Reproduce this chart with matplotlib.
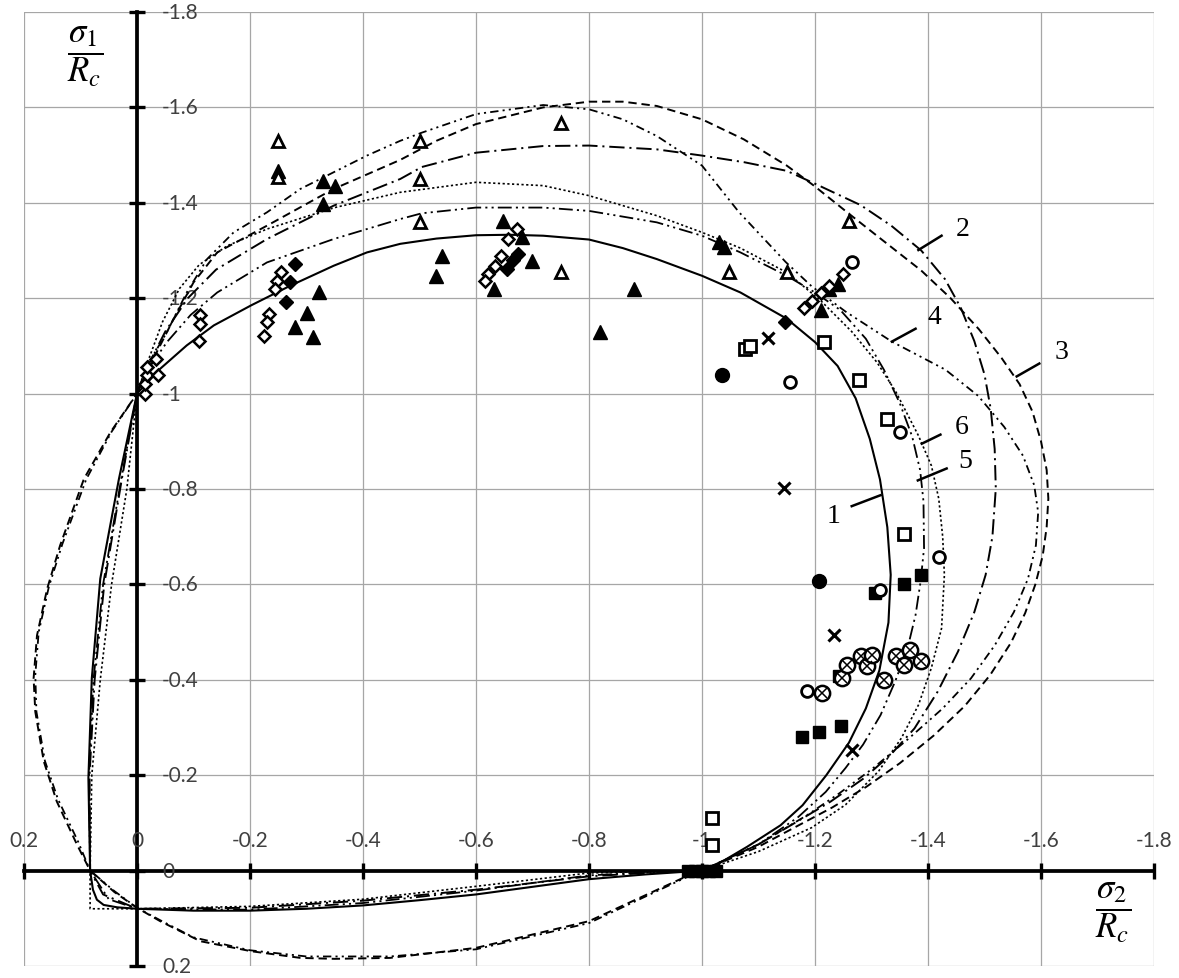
import numpy as np
import matplotlib.pyplot as plt

plt.rcParams['lines.scale_dashes'] = False
plt.rcParams['mathtext.fontset'] = 'stix'

# tick values / labels (Excel style)
tick_vals = [0.2, 0.0, -0.2, -0.4, -0.6, -0.8, -1.0, -1.2, -1.4, -1.6, -1.8]
tick_text = ['0.2', '0', '-0.2', '-0.4', '-0.6', '-0.8', '-1', '-1.2', '-1.4', '-1.6', '-1.8']

# limit curves (sigma2/Rc, sigma1/Rc)
curve1 = [(0, -1.0), (-0.041, -1.052), (-0.088, -1.101), (-0.136, -1.143), (-0.202, -1.185),
          (-0.271, -1.226), (-0.348, -1.268), (-0.407, -1.296), (-0.466, -1.314), (-0.53, -1.325),
          (-0.6, -1.332), (-0.66, -1.333), (-0.719, -1.331), (-0.8, -1.323), (-0.86, -1.305),
          (-0.92, -1.282), (-1.0, -1.247), (-1.068, -1.212), (-1.15, -1.157), (-1.2, -1.108),
          (-1.24, -1.058), (-1.272, -0.99), (-1.297, -0.905), (-1.315, -0.82), (-1.328, -0.72),
          (-1.334, -0.62), (-1.33, -0.52), (-1.314, -0.42), (-1.29, -0.34), (-1.26, -0.268),
          (-1.22, -0.2), (-1.178, -0.137), (-1.139, -0.095), (-1.08, -0.05), (-1.03, -0.015),
          (-1.0, 0.0), (-0.9, 0.008), (-0.8, 0.018), (-0.7, 0.034), (-0.6, 0.05), (-0.5, 0.062),
          (-0.4, 0.073), (-0.3, 0.08), (-0.2, 0.084), (-0.1, 0.084), (0.0, 0.08), (0.035, 0.077),
          (0.059, 0.072), (0.071, 0.061), (0.078, 0.04), (0.083, 0.0), (0.086, -0.194),
          (0.08, -0.403), (0.065, -0.612), (0.032, -0.821), (0.0, -1.0)]

curve2 = [(0, -1.0), (-0.02, -1.06), (-0.05, -1.13), (-0.09, -1.2), (-0.14, -1.26), (-0.23, -1.324),
          (-0.348, -1.394), (-0.466, -1.45), (-0.504, -1.475), (-0.6, -1.505), (-0.719, -1.519),
          (-0.8, -1.52), (-0.92, -1.512), (-1.0, -1.499), (-1.075, -1.485), (-1.15, -1.467),
          (-1.2, -1.44), (-1.281, -1.395), (-1.335, -1.352), (-1.388, -1.3), (-1.43, -1.24),
          (-1.458, -1.18), (-1.482, -1.11), (-1.5, -1.04), (-1.511, -0.968), (-1.518, -0.884),
          (-1.52, -0.801), (-1.514, -0.7), (-1.502, -0.62), (-1.482, -0.542), (-1.453, -0.459),
          (-1.417, -0.375), (-1.376, -0.298), (-1.334, -0.243), (-1.287, -0.194), (-1.228, -0.145),
          (-1.19, -0.118), (-1.1, -0.055), (-1.0, 0.0), (-0.9, 0.005), (-0.8, 0.012), (-0.6, 0.04),
          (-0.4, 0.063), (-0.2, 0.078), (0.0, 0.08), (0.06, 0.05), (0.083, 0.0), (0.084, -0.2),
          (0.075, -0.4), (0.058, -0.6), (0.027, -0.82), (0.0, -1.0)]

curve3 = [(0, -1.0), (-0.029, -1.073), (-0.065, -1.157), (-0.1, -1.233), (-0.142, -1.296),
          (-0.23, -1.352), (-0.348, -1.429), (-0.466, -1.49), (-0.53, -1.53), (-0.6, -1.565),
          (-0.719, -1.6), (-0.8, -1.612), (-0.86, -1.612), (-0.92, -1.603), (-1.0, -1.575),
          (-1.074, -1.533), (-1.15, -1.478), (-1.198, -1.436), (-1.257, -1.38), (-1.317, -1.324),
          (-1.388, -1.258), (-1.44, -1.2), (-1.49, -1.135), (-1.53, -1.075), (-1.562, -1.02),
          (-1.585, -0.962), (-1.6, -0.9), (-1.61, -0.84), (-1.613, -0.78), (-1.61, -0.72),
          (-1.603, -0.66), (-1.59, -0.6), (-1.572, -0.54), (-1.547, -0.478), (-1.51, -0.41),
          (-1.465, -0.345), (-1.41, -0.283), (-1.35, -0.225), (-1.29, -0.175), (-1.23, -0.132),
          (-1.16, -0.088), (-1.1, -0.05), (-1.0, 0.0), (-0.967, 0.015), (-0.8, 0.106),
          (-0.6, 0.162), (-0.448, 0.183), (-0.35, 0.185), (-0.289, 0.183), (-0.202, 0.169),
          (-0.112, 0.148), (-0.041, 0.106), (0.0, 0.078), (0.04, 0.045), (0.083, 0.0),
          (0.106, -0.054), (0.142, -0.145), (0.165, -0.229), (0.18, -0.333), (0.183, -0.403),
          (0.177, -0.493), (0.159, -0.591), (0.136, -0.682), (0.094, -0.821), (0.047, -0.919),
          (0.0, -1.0)]

curve4 = [(0, -1.0), (-0.018, -1.059), (-0.053, -1.129), (-0.088, -1.212), (-0.124, -1.282),
          (-0.171, -1.338), (-0.23, -1.38), (-0.289, -1.429), (-0.348, -1.464), (-0.407, -1.499),
          (-0.466, -1.53), (-0.504, -1.547), (-0.6, -1.586), (-0.719, -1.605), (-0.8, -1.596),
          (-0.86, -1.575), (-0.92, -1.54), (-1.0, -1.478), (-1.065, -1.381), (-1.148, -1.276),
          (-1.194, -1.225), (-1.254, -1.172), (-1.336, -1.109), (-1.431, -1.05), (-1.489, -0.995),
          (-1.535, -0.93), (-1.568, -0.87), (-1.588, -0.808), (-1.595, -0.751), (-1.591, -0.682),
          (-1.577, -0.612), (-1.552, -0.542), (-1.518, -0.472), (-1.476, -0.403), (-1.426, -0.34),
          (-1.366, -0.277), (-1.302, -0.214), (-1.243, -0.162), (-1.187, -0.117), (-1.1, -0.055),
          (-1.0, 0.0), (-0.967, 0.017), (-0.8, 0.11), (-0.6, 0.165), (-0.448, 0.18), (-0.3, 0.18),
          (-0.2, 0.167), (-0.1, 0.14), (-0.041, 0.104), (0.0, 0.078), (0.04, 0.043), (0.083, 0.0),
          (0.104, -0.06), (0.14, -0.15), (0.163, -0.23), (0.178, -0.333), (0.18, -0.41),
          (0.174, -0.5), (0.156, -0.595), (0.132, -0.685), (0.09, -0.82), (0.045, -0.92), (0.0, -1.0)]

curve5 = [(0, -1.0), (-0.012, -1.038), (-0.053, -1.108), (-0.095, -1.165), (-0.142, -1.212),
          (-0.23, -1.275), (-0.348, -1.324), (-0.466, -1.366), (-0.504, -1.378), (-0.6, -1.39),
          (-0.719, -1.39), (-0.8, -1.383), (-0.92, -1.359), (-1.0, -1.331), (-1.068, -1.296),
          (-1.15, -1.247), (-1.2, -1.212), (-1.245, -1.175), (-1.29, -1.115), (-1.322, -1.05),
          (-1.35, -0.98), (-1.372, -0.91), (-1.386, -0.84), (-1.392, -0.774), (-1.393, -0.676),
          (-1.387, -0.607), (-1.378, -0.536), (-1.364, -0.467), (-1.342, -0.397), (-1.316, -0.326),
          (-1.285, -0.264), (-1.254, -0.215), (-1.219, -0.165), (-1.17, -0.112), (-1.1, -0.055),
          (-1.0, 0.0), (-0.9, 0.004), (-0.8, 0.01), (-0.6, 0.042), (-0.4, 0.068), (-0.2, 0.082),
          (0.0, 0.08), (0.05, 0.06), (0.083, 0.0), (0.085, -0.2), (0.077, -0.4), (0.06, -0.6),
          (0.028, -0.82), (0.0, -1.0)]

curve6 = [(0, -1.0), (-0.02, -1.07), (-0.045, -1.15), (-0.075, -1.22), (-0.11, -1.27), (-0.16, -1.31),
          (-0.23, -1.345), (-0.35, -1.39), (-0.466, -1.422), (-0.6, -1.443), (-0.719, -1.436),
          (-0.8, -1.415), (-0.92, -1.373), (-1.0, -1.338), (-1.068, -1.305), (-1.15, -1.254),
          (-1.21, -1.195), (-1.265, -1.13), (-1.31, -1.065), (-1.343, -1.004), (-1.383, -0.912),
          (-1.406, -0.849), (-1.419, -0.78), (-1.426, -0.7), (-1.429, -0.62), (-1.424, -0.508),
          (-1.406, -0.425), (-1.383, -0.347), (-1.353, -0.278), (-1.313, -0.209), (-1.254, -0.138),
          (-1.194, -0.09), (-1.1, -0.04), (-1.0, 0.0), (-0.9, 0.002), (-0.8, 0.005), (-0.6, 0.033),
          (-0.4, 0.06), (-0.2, 0.075), (0.0, 0.08), (0.083, 0.08), (0.083, 0.0), (0.08, -0.2),
          (0.065, -0.4), (0.045, -0.6), (0.018, -0.8), (0.0, -1.0)]

# experimental points
tri_open = [(-0.25, -1.53), (-0.25, -1.455), (-0.5, -1.53), (-0.5, -1.45), (-0.5, -1.36),
            (-0.75, -1.568), (-0.75, -1.254), (-1.047, -1.254), (-1.15, -1.254), (-1.26, -1.362)]
tri_fill = [(-0.25, -1.467), (-0.329, -1.446), (-0.351, -1.436), (-0.329, -1.397), (-0.322, -1.212),
            (-0.301, -1.17), (-0.28, -1.139), (-0.311, -1.118), (-0.539, -1.289), (-0.53, -1.247),
            (-0.648, -1.362), (-0.681, -1.328), (-0.699, -1.279), (-0.631, -1.219), (-0.879, -1.219),
            (-0.82, -1.129), (-1.03, -1.317), (-1.039, -1.307), (-1.21, -1.175), (-1.225, -1.22),
            (-1.24, -1.23)]
dia_open = [(-0.015, -1.0), (-0.015, -1.02), (-0.018, -1.038), (-0.018, -1.055), (-0.033, -1.073),
            (-0.038, -1.038), (-0.112, -1.164), (-0.112, -1.146), (-0.11, -1.111), (-0.254, -1.254),
            (-0.248, -1.237), (-0.245, -1.219), (-0.233, -1.167), (-0.23, -1.15), (-0.225, -1.12),
            (-0.672, -1.345), (-0.657, -1.324), (-0.645, -1.289), (-0.634, -1.268), (-0.622, -1.251),
            (-0.616, -1.237), (-1.18, -1.18), (-1.195, -1.195), (-1.21, -1.21), (-1.225, -1.225),
            (-1.25, -1.25)]
dia_fill = [(-0.28, -1.272), (-0.271, -1.233), (-0.263, -1.191), (-0.675, -1.293), (-0.666, -1.28),
            (-0.654, -1.262), (-1.147, -1.15)]
circ_open = [(-1.265, -1.275), (-1.155, -1.025), (-1.35, -0.92), (-1.42, -0.657), (-1.315, -0.588),
             (-1.185, -0.377)]
circ_fill = [(-1.035, -1.04), (-1.207, -0.607)]
sq_open = [(-1.076, -1.094), (-1.085, -1.1), (-1.216, -1.109), (-1.277, -1.029), (-1.327, -0.946),
           (-1.358, -0.705), (-1.017, -0.11), (-1.017, -0.054)]
sq_fill = [(-1.387, -0.619), (-1.357, -0.6), (-1.307, -0.582), (-1.246, -0.303), (-1.207, -0.291),
           (-1.177, -0.28), (-1.242, -0.408), (-0.976, 0.0), (-0.988, 0.0), (-1.0, 0.0),
           (-1.012, 0.0), (-1.024, 0.0)]
otimes = [(-1.212, -0.372), (-1.247, -0.404), (-1.256, -0.431), (-1.281, -0.45), (-1.292, -0.429),
          (-1.3, -0.452), (-1.322, -0.4), (-1.343, -0.45), (-1.357, -0.431), (-1.369, -0.462),
          (-1.387, -0.439)]
crosses = [(-1.117, -1.117), (-1.145, -0.803), (-1.233, -0.494), (-1.265, -0.253)]

# line styles of the six curves
styles = {
    '1': dict(ls='-', lw=1.5),
    '2': dict(ls=(0, (11, 3.5, 1.5, 3.5)), lw=1.4),
    '3': dict(ls=(0, (6, 3.5)), lw=1.4),
    '4': dict(ls=(0, (6, 3, 1.5, 3, 1.5, 3)), lw=1.3),
    '5': dict(ls=(0, (10, 3, 1.5, 3, 1.5, 3)), lw=1.3),
    '6': dict(ls=(0, (1.6, 1.8)), lw=1.2),
}

fig = plt.figure(figsize=(11.79, 9.79), dpi=100)
ax = fig.add_axes([24 / 1179, 1 - 967 / 979, 1130 / 1179, 954 / 979])
ax.set_xlim(0.2, -1.8)
ax.set_ylim(0.2, -1.8)
ax.set_xticks(tick_vals)
ax.set_yticks(tick_vals)
ax.grid(True, color='#a6a6a6', lw=0.9)
ax.set_axisbelow(True)
for gl in ax.get_xgridlines() + ax.get_ygridlines():
    gl.set_clip_on(False)

for s in ['top', 'right']:
    ax.spines[s].set_visible(False)
ax.spines['left'].set_position(('data', 0))
ax.spines['bottom'].set_position(('data', 0))
ax.spines['left'].set_linewidth(2.7)
ax.spines['bottom'].set_linewidth(2.7)
ax.tick_params(direction='inout', length=12, width=2.4, labelleft=False, labelbottom=False)

for v, t in zip(tick_vals, tick_text):
    ax.annotate(t, (0, v), xytext=(18, 0), textcoords='offset points', ha='left', va='center',
                fontsize=15, color='#404040', family='Lato')
    ax.annotate(t, (v, 0), xytext=(0, 22), textcoords='offset points', ha='center', va='center',
                fontsize=15, color='#404040', family='Lato')

for name, pts in zip('123456', [curve1, curve2, curve3, curve4, curve5, curve6]):
    xy = np.array(pts)
    ax.plot(xy[:, 0], xy[:, 1], color='black', zorder=3, **styles[name])


def pts_plot(pts, **kw):
    xy = np.array(pts)
    ax.plot(xy[:, 0], xy[:, 1], ls='none', zorder=5, **kw)


pts_plot(tri_fill, marker='^', ms=10, mfc='black', mec='black')
pts_plot(tri_open, marker='^', ms=9, mfc='white', mec='black', mew=2)
pts_plot(dia_fill, marker='D', ms=7, mfc='black', mec='black')
pts_plot(dia_open, marker='D', ms=6.5, mfc='white', mec='black', mew=1.8)
pts_plot(sq_fill, marker='s', ms=9, mfc='black', mec='black')
pts_plot(sq_open, marker='s', ms=8.5, mfc='white', mec='black', mew=2)
pts_plot(circ_fill, marker='o', ms=10, mfc='black', mec='black')
pts_plot(circ_open, marker='o', ms=8.5, mfc='white', mec='black', mew=2)
pts_plot(otimes, marker='o', ms=11, mfc='white', mec='black', mew=1.8)
pts_plot(otimes, marker='x', ms=7, mec='black', mew=1.1)
pts_plot(crosses, marker='x', ms=8, mec='black', mew=2.2)

# curve numbers with leader lines
labels = [('1', (-1.233, -0.745), (-1.265, -0.764), (-1.316, -0.787)),
          ('2', (-1.461, -1.347), (-1.383, -1.301), (-1.424, -1.331)),
          ('3', (-1.636, -1.088), (-1.557, -1.036), (-1.597, -1.063)),
          ('4', (-1.412, -1.161), (-1.336, -1.109), (-1.378, -1.136)),
          ('5', (-1.466, -0.86), (-1.382, -0.818), (-1.433, -0.843)),
          ('6', (-1.459, -0.931), (-1.389, -0.895), (-1.422, -0.914))]
for t, pos, a, b in labels:
    ax.plot([a[0], b[0]], [a[1], b[1]], color='black', lw=1.8, zorder=6)
    ax.text(pos[0], pos[1], t, fontsize=20, family='Liberation Serif', ha='center', va='center',
            zorder=6)

fig.text(85 / 1179, 1 - 57 / 979, r'$\dfrac{\sigma_1}{R_c}$', ha='center', va='center', fontsize=25)
fig.text(1113 / 1179, 1 - 913 / 979, r'$\dfrac{\sigma_2}{R_c}$', ha='center', va='center', fontsize=25)

fig.savefig('out.png', dpi=100)
